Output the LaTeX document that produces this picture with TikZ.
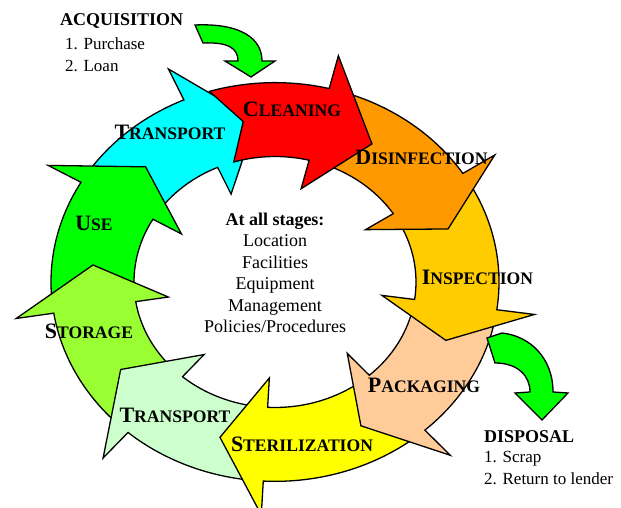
\documentclass[tikz,border=0pt]{standalone}
\usepackage{fontspec}
\setmainfont{Liberation Serif}
\usetikzlibrary{positioning}
\definecolor{cyanstage}{HTML}{00FFFF}
\definecolor{redstage}{HTML}{FF0000}
\definecolor{orangestage}{HTML}{FF9900}
\definecolor{goldstage}{HTML}{FFCC00}
\definecolor{peachstage}{HTML}{FFCC99}
\definecolor{yellowstage}{HTML}{FFFF00}
\definecolor{mintstage}{HTML}{CCFFCC}
\definecolor{limestage}{HTML}{99FF33}
\definecolor{greenstage}{HTML}{00FF00}
\newcommand\ringin{141}
\newcommand\ringout{224}
\newcommand\ringmid{183}
\newcommand\wingin{108}
\newcommand\wingout{262}
\newcommand\smc[2]{{\fontsize{22}{22}\selectfont #1}{\fontsize{17.6}{17.6}\selectfont #2}}
% fill, tail, notch, head base, tip
\newcommand\ringarrow[5]{%
  \filldraw[ring arrow,fill=#1] (#2:\ringout) arc[start angle=#2,end angle=#4,radius=\ringout]
    -- (#4:\wingout) -- (#5:\ringmid) -- (#4:\wingin) -- (#4:\ringin)
    arc[start angle=#4,end angle=#2,radius=\ringin] -- (#3:\ringmid) -- cycle;}
\tikzset{ring arrow/.style={draw=black,line width=1.3pt,line join=miter},
         side arrow/.style={ring arrow,fill=greenstage},
         stage label/.style={font=\bfseries,inner sep=0pt,anchor=base},
         head text/.style={font=\fontsize{18}{21}\selectfont\bfseries,inner sep=0pt,anchor=base west},
         item text/.style={font=\fontsize{17}{22}\selectfont,inner sep=0pt,anchor=base west},
         stages text/.style={font=\fontsize{18}{21.4}\selectfont,align=center,inner sep=0pt,anchor=north}
}

\begin{document}
\begin{tikzpicture}[x=1pt,y=1pt]
\useasboundingbox (0,0) rectangle (621,508);
\begin{scope}[shift={(275,226)},yscale=0.89]
\ringarrow{cyanstage}{-212}{-220}{-246}{-264}
\ringarrow{greenstage}{-173}{-181}{-210}{-225}
\ringarrow{limestage}{-133}{-141}{-171}{-186}
\ringarrow{mintstage}{-95}{-103}{-131}{-147.5}
\ringarrow{yellowstage}{-50}{-58}{-93}{-107.5}
\ringarrow{peachstage}{-10}{-18}{-48}{-62}
\ringarrow{goldstage}{31}{23}{-8}{-21}
\ringarrow{orangestage}{74}{66}{33}{19}
\ringarrow{redstage}{107}{100}{76}{58}
\end{scope}
\filldraw[side arrow] (195,483) .. controls (240,485) and (262,470) .. (262,447)
  -- (275,447) -- (251,431) -- (225,447) -- (238,447)
  .. controls (238,460) and (228,466) .. (203,465) -- cycle;
\filldraw[side arrow] (487,170) -- (502,175) .. controls (530,172) and (553,150) .. (553,116)
  -- (568,115) -- (542,88) -- (515,115) -- (530,116)
  .. controls (530,132) and (518,145) .. (495,145) -- cycle;
\node[stage label] (cleaning) at (292,391) {\smc{C}{LEANING}};
\node[stage label] (disinfection) at (421.5,343) {\smc{D}{ISINFECTION}};
\node[stage label] (inspection) at (477.5,223) {\smc{I}{NSPECTION}};
\node[stage label] (packaging) at (424,115) {\smc{P}{ACKAGING}};
\node[stage label] (sterilization) at (302,56) {\smc{S}{TERILIZATION}};
\node[stage label] (transportB) at (175,85) {\smc{T}{RANSPORT}};
\node[stage label] (storage) at (89,169) {\smc{S}{TORAGE}};
\node[stage label] (use) at (94,277) {\smc{U}{SE}};
\node[stage label] (transportA) at (170,368) {\smc{T}{RANSPORT}};
\node[stages text] (stages) at (275,295.2) {\textbf{At all stages:}\\Location\\Facilities\\Equipment\\Management\\Policies/Procedures};
\node[head text] (acq) at (60,482) {ACQUISITION};
\node[item text] (acqone) at (65,458) {1. Purchase};
\node[item text] (acqtwo) at (65,436) {2. Loan};
\node[head text] (disp) at (484,65) {DISPOSAL};
\node[item text] (dispone) at (484,45) {1. Scrap};
\node[item text] (disptwo) at (484,23) {2. Return to lender};
\end{tikzpicture}
\end{document}
